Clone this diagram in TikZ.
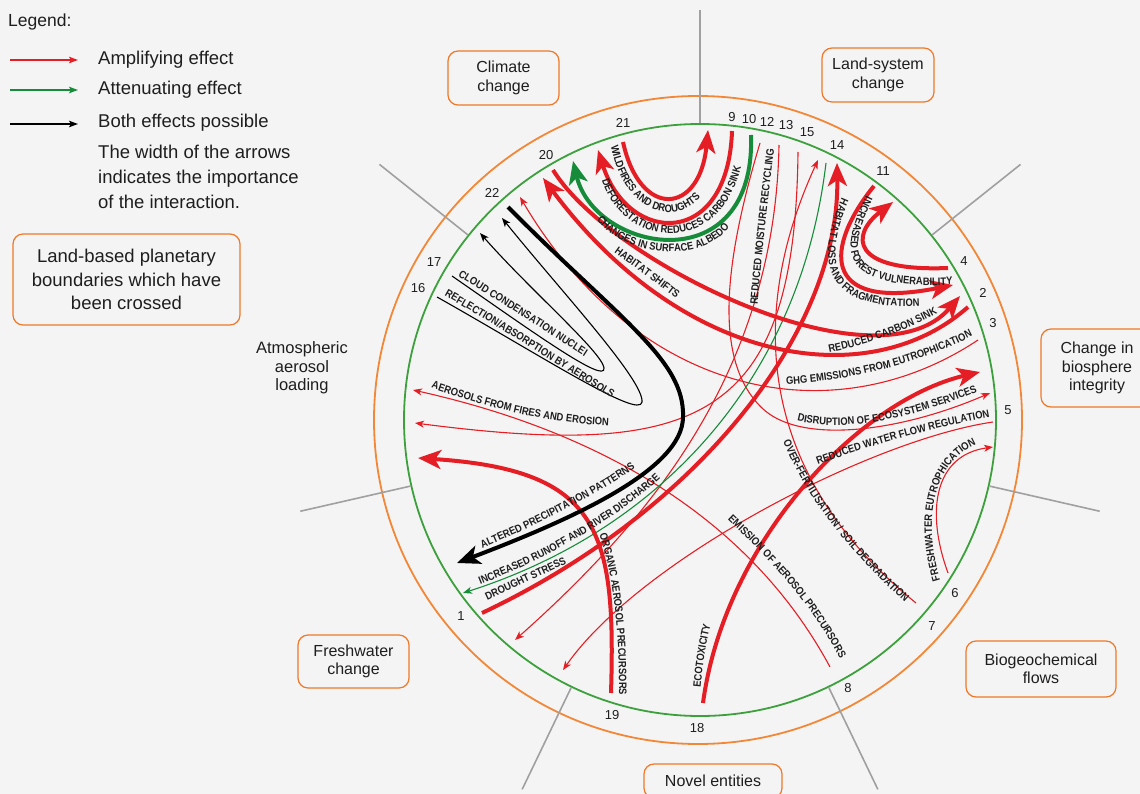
\documentclass[tikz,border=0pt]{standalone}
\usepackage{fontspec}
\setmainfont{Liberation Sans}
\newfontfamily\lblfam{Liberation Sans}[FakeStretch=0.87]
\usetikzlibrary{arrows.meta,decorations.text,calc}

\definecolor{bgc}{RGB}{244,244,244}
\definecolor{ampred}{RGB}{228,30,36}
\definecolor{attgreen}{RGB}{22,140,58}
\definecolor{ringgreen}{RGB}{60,160,60}
\definecolor{ringorange}{RGB}{242,135,55}
\definecolor{boxorange}{RGB}{240,120,40}
\definecolor{divgray}{RGB}{160,160,160}
\definecolor{txt}{RGB}{30,30,30}

\newcommand{\lblf}{\lblfam\fontsize{10.8}{12}\selectfont\bfseries}

\tikzset{
  thinhead/.style={-{Stealth[length=9pt,width=7pt,inset=2.5pt]}},
  thickhead/.style={-{Stealth[length=23pt,width=19pt,inset=6pt]}},
  ampthin/.style={draw=ampred, line width=1.1pt, thinhead},
  ampthick/.style={draw=ampred, line width=4pt, thickhead},
  attthin/.style={draw=attgreen, line width=1.1pt, thinhead},
  attthick/.style={draw=attgreen, line width=4pt, thickhead},
  boththin/.style={draw=black, line width=1.1pt, thinhead},
  boththick/.style={draw=black, line width=4pt, thickhead},
  lbl/.style={decorate, decoration={text along path, text color=txt,
      text align=center, text={|\lblf|#1}}},
  lbll/.style={decorate, decoration={text along path, text color=txt,
      text align=left, text={|\lblf|#1}}},
  sbox/.style={draw=boxorange, line width=1.2pt, rounded corners=10pt,
      align=center, text=txt, inner sep=0pt,
      font=\fontsize{16}{18.5}\selectfont},
  numf/.style={text=txt, inner sep=0pt, font=\fontsize{13}{15}\selectfont},
  legtxt/.style={anchor=west, text=txt, inner sep=0pt,
      font=\fontsize{18.5}{22}\selectfont},
  divider/.style={draw=divgray, line width=1.6pt},
  legarrow/.style={line width=1.5pt, -{Stealth[length=9pt,width=6.5pt,inset=2pt]}}
}

\begin{document}
\begin{tikzpicture}[x=1pt,y=-1pt]
\fill[bgc] (0,0) rectangle (1140,794);
\path[use as bounding box] (0,0) rectangle (1140,794);

% ---------- legend ----------
\node[legtxt, font=\fontsize{17.5}{21}\selectfont] (legtitle) at (8,22) {Legend:};
\coordinate (la1) at (10,60);  \coordinate (lb1) at (78,60);
\coordinate (la2) at (10,90);  \coordinate (lb2) at (78,90);
\coordinate (la3) at (10,124); \coordinate (lb3) at (78,124);
\draw[legarrow, ampred] (la1) -- (lb1);
\draw[legarrow, attgreen] (la2) -- (lb2);
\draw[legarrow, black] (la3) -- (lb3);
\node[legtxt] (legamp) at (98,60) {Amplifying effect};
\node[legtxt] (legatt) at (98,90) {Attenuating effect};
\node[legtxt] (legboth) at (98,123) {Both effects possible};
\node[legtxt, align=left, anchor=north west, font=\fontsize{18.5}{25}\selectfont]
  (legwidth) at (98,145) {The width of the arrows\\indicates the importance\\of the interaction.};
\node[sbox, minimum width=227pt, minimum height=91pt,
      font=\fontsize{18.5}{23.5}\selectfont] (crossed) at (126.5,279.5)
  {Land-based planetary\\boundaries which have\\been crossed};

% ---------- rings and sector dividers ----------
\coordinate (C) at (700,420);
\coordinate (CO) at (698,420);
\draw[ringorange, line width=1.8pt] (CO) circle[radius=324pt];
\draw[ringgreen, line width=1.8pt] (C) circle[radius=296pt];
\foreach \a in {-90,-38.57,12.86,64.29,115.71,167.14,-141.43}
  \draw[divider] ([shift={(\a:297)}]C) -- ([shift={(\a:410)}]C);

% ---------- sector names ----------
\node[sbox, minimum width=111pt, minimum height=54pt] (climate) at (503.5,78) {Climate\\change};
\node[sbox, minimum width=112pt, minimum height=54pt] (landsys) at (878,75) {Land-system\\change};
\node[sbox, minimum width=112pt, minimum height=78pt] (biosph) at (1097,368) {Change in\\biosphere\\integrity};
\node[sbox, minimum width=150pt, minimum height=56pt] (biogeo) at (1041,669) {Biogeochemical\\flows};
\node[sbox, minimum width=138pt, minimum height=34pt] (novel) at (713,781) {Novel entities};
\node[sbox, minimum width=111pt, minimum height=53pt] (fresh) at (353.5,661.5) {Freshwater\\change};
\node[text=txt, align=center, inner sep=0pt, font=\fontsize{16.5}{18.5}\selectfont]
  (aerosol) at (302,368) {Atmospheric\\aerosol\\loading};

% ---------- interaction end points ----------
\coordinate (t1) at (482,613);  \coordinate (h1) at (837,163);
\coordinate (t2) at (968,307);  \coordinate (h2) at (543,178);
\coordinate (t3) at (978,340);  \coordinate (h3) at (520,197);
\coordinate (t4) at (948,268);  \coordinate (h4) at (893,202);
\coordinate (t5) at (993,422);  \coordinate (h5) at (563,670);
\coordinate (t6) at (948,573);  \coordinate (h6) at (993,447);
\coordinate (t7) at (916,603);  \coordinate (h7) at (818,160);
\coordinate (t8) at (830,667);  \coordinate (h8) at (413,390);
\coordinate (t9) at (732,131);  \coordinate (h9) at (598,150);
\coordinate (t10) at (751,135); \coordinate (h10) at (573,161);
\coordinate (t11) at (874,186); \coordinate (h11) at (953,285);
\coordinate (t12) at (760,143); \coordinate (h12) at (990,393);
\coordinate (t13) at (779,145); \coordinate (h13) at (515,640);
\coordinate (t14) at (826,163); \coordinate (h14) at (463,593);
\coordinate (t15) at (798,152); \coordinate (h15) at (415,423);
\coordinate (t16) at (437,297); \coordinate (h16) at (502,218);
\coordinate (t17) at (452,276); \coordinate (h17) at (480,233);
\coordinate (t18) at (703,703); \coordinate (h18) at (980,372);
\coordinate (t19) at (611,693); \coordinate (h19) at (418,458);
\coordinate (t20) at (553,170); \coordinate (h20) at (960,296);
\coordinate (t21) at (623,142); \coordinate (h21) at (708,130);
\coordinate (t22) at (508,207); \coordinate (h22) at (457,563);

% ---------- thin connectors ----------
\draw[ampthin] (t3) .. controls (835,435) and (640,400) .. (h3);
\draw[ampthin] (t5) .. controls (870,440) and (640,560) .. (h5);
\draw[ampthin] (t6) .. controls (925,510) and (935,455) .. (h6);
\draw[ampthin] (t7) .. controls (740,460) and (758,290) .. (h7);
\draw[ampthin] (t8) .. controls (740,500) and (570,425) .. (h8);
\draw[ampthin] (t12) .. controls (725,260) and (712,360) .. (762,408)
                     .. controls (800,445) and (900,432) .. (h12);
\draw[ampthin] (t13) .. controls (775,370) and (650,520) .. (h13);
\draw[attthin] (t14) .. controls (800,380) and (660,530) .. (h14);
\draw[ampthin] (t15) .. controls (795,420) and (700,460) .. (h15);
\draw[boththin] (t16) .. controls (540,355) and (640,420) .. (642,402)
                       .. controls (644,380) and (560,290) .. (h16);
\draw[boththin] (t17) .. controls (530,330) and (606,385) .. (604,368)
                       .. controls (602,352) and (530,290) .. (h17);

% ---------- thick connectors ----------
\draw[ampthick] (t1) .. controls (700,510) and (840,330) .. (h1);
\draw[ampthick] (t2) .. controls (870,394) and (684,367) .. (h2);
\draw[ampthick] (t4) .. controls (850,272) and (850,235) .. (h4);
\draw[ampthick] (t9) .. controls (728,250) and (628,245) .. (h9);
\draw[attthick] (t10) .. controls (756,283) and (595,253) .. (h10);
\draw[ampthick] (t11) .. controls (826,245) and (818,312) .. (h11);
\draw[ampthick] (t18) .. controls (725,540) and (860,400) .. (h18);
\draw[ampthick] (t19) .. controls (616,530) and (600,470) .. (h19);
\draw[ampthick] (t20) .. controls (612,265) and (878,392) .. (h20);
\draw[ampthick] (t21) .. controls (640,220) and (700,215) .. (h21);
\draw[boththick] (t22) .. controls (620,320) and (685,360) .. (683,417)
                        .. controls (683,470) and (570,520) .. (h22);

% ---------- labels along the connectors ----------
\path[lbl={DROUGHT STRESS}] (480,604) -- (574,560);
\path[lbl={INCREASED RUNOFF AND RIVER DISCHARGE}] (472,588) .. controls (540,562) and (615,522) .. (667,472);
\path[lbl={ALTERED PRECIPITATION PATTERNS}] (476,551) .. controls (530,528) and (590,500) .. (641,464);
\path[lbl={ORGANIC AEROSOL PRECURSORS}] (597,528) .. controls (611,565) and (620,620) .. (619,702);
\path[lbl={ECOTOXICITY}] (700,697) .. controls (702,670) and (705,645) .. (713,616);
\path[lbl={EMISSION OF AEROSOL PRECURSORS}] (720,512) .. controls (770,560) and (810,600) .. (845,668);
\path[lbl={OVER-FERTILISATION / SOIL DEGRADATION}] (777,425) .. controls (795,478) and (835,542) .. (918,614);
\path[lbl={REDUCED WATER FLOW REGULATION}] (812,467) .. controls (865,447) and (930,428) .. (996,416);
\path[lbl={DISRUPTION OF ECOSYSTEM SERVICES}] (788,418) .. controls (830,434) and (905,423) .. (986,388);
\path[lbl={GHG EMISSIONS FROM EUTROPHICATION}] (778,385) .. controls (850,382) and (925,362) .. (980,332);
\path[lbl={REDUCED CARBON SINK}] (822,354) .. controls (865,346) and (905,332) .. (944,310);
\path[lbl={HABITAT SHIFTS}] (604,245) .. controls (630,263) and (657,284) .. (686,306);
\path[lbll={WILDFIRES AND DROUGHTS}] (611,146) .. controls (628,235) and (712,232) .. (718,150);
\path[lbll={DEFORESTATION REDUCES CARBON SINK}] (602,180) .. controls (625,255) and (740,262) .. (746,132);
\path[lbll={CHANGES IN SURFACE ALBEDO}] (597,219) .. controls (618,255) and (727,278) .. (744,195);
\path[lbll={HABITAT LOSS AND FRAGMENTATION}] (842,198) .. controls (814,262) and (820,318) .. (940,304);
\path[lbll={INCREASED FOREST VULNERABILITY}] (866,196) .. controls (838,255) and (835,295) .. (975,283);
\path[lbl={FRESHWATER EUTROPHICATION}] (942,586) .. controls (922,525) and (930,460) .. (982,442);
\path[lbl={REDUCED MOISTURE RECYCLING}] (757,312) .. controls (762,250) and (768,200) .. (775,142);
\path[lbl={AEROSOLS FROM FIRES AND EROSION}] (426,386) .. controls (480,405) and (540,423) .. (614,426);
\path[lbl={CLOUD CONDENSATION NUCLEI}] (452,273) .. controls (500,301) and (545,331) .. (590,360);
\path[lbl={REFLECTION/ABSORPTION BY AEROSOLS}] (438,292) .. controls (502,328) and (562,368) .. (618,402);

% ---------- interaction numbers ----------
\node[numf] (n1) at (461,616) {1};
\node[numf] (n2) at (983,293) {2};
\node[numf] (n3) at (993,323) {3};
\node[numf] (n4) at (964,261) {4};
\node[numf] (n5) at (1008,410) {5};
\node[numf] (n6) at (955,593) {6};
\node[numf] (n7) at (932,626) {7};
\node[numf] (n8) at (848,688) {8};
\node[numf] (n9) at (732,117) {9};
\node[numf] (n10) at (749,119) {10};
\node[numf] (n11) at (883,171) {11};
\node[numf] (n12) at (767,122) {12};
\node[numf] (n13) at (786,125) {13};
\node[numf] (n14) at (837,145) {14};
\node[numf] (n15) at (807,132) {15};
\node[numf] (n16) at (418,288) {16};
\node[numf] (n17) at (434,262) {17};
\node[numf] (n18) at (697,728) {18};
\node[numf] (n19) at (612,715) {19};
\node[numf] (n20) at (546,155) {20};
\node[numf] (n21) at (623,123) {21};
\node[numf] (n22) at (492,193) {22};
\end{tikzpicture}
\end{document}
